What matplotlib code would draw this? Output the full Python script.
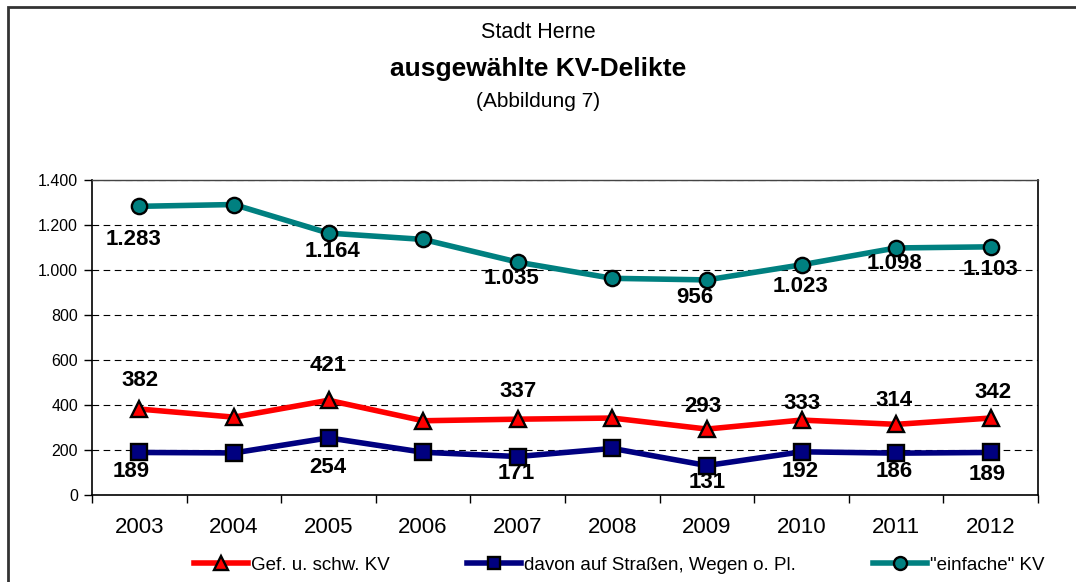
import matplotlib.pyplot as plt
from matplotlib.patches import Rectangle
from matplotlib.ticker import FuncFormatter

plt.rcParams["font.family"] = ["Liberation Sans", "DejaVu Sans"]

# Data
years = ["2003", "2004", "2005", "2006", "2007", "2008", "2009", "2010", "2011", "2012"]
gef_schw = [382, 346, 421, 330, 337, 342, 293, 333, 314, 342]
strassen = [189, 187, 254, 190, 171, 207, 131, 192, 186, 189]
einfache = [1283, 1291, 1164, 1136, 1035, 963, 956, 1023, 1098, 1103]
labeled = [0, 2, 4, 6, 7, 8, 9]

# label offsets in pixels (dx, dy)
off_einfache = [(-6, -33), (4, -18), (-6, -16), (-12, -18), (-1, -22), (-2, -16), (0, -23)]
off_gef = [(1, 29), (0, 35), (0, 28), (-4, 23), (1, 17), (-2, 24), (2, 26)]
off_str = [(-8, -19), (-1, -30), (-1, -17), (0, -17), (-1, -20), (-2, -18), (-4, -22)]


def fmt(v):
    return f"{v:,}".replace(",", ".")


fig = plt.figure(figsize=(10.76, 5.82), dpi=100)
ax = fig.add_axes([92 / 1076, 87 / 582, 946 / 1076, 315 / 582])

x = list(range(len(years)))

series = [
    (gef_schw, "#FF0000", "^", "Gef. u. schw. KV", off_gef, 12),
    (strassen, "#000080", "s", "davon auf Straßen, Wegen o. Pl.", off_str, 11),
    (einfache, "#008080", "o", '"einfache" KV', off_einfache, 11),
]

for vals, col, mk, name, offs, ms in series:
    ax.plot(x, vals, color=col, lw=4, marker=mk, markersize=ms,
            markerfacecolor=col, markeredgecolor="black", markeredgewidth=1.7,
            label=name, zorder=3)
    for i, (dx, dy) in zip(labeled, offs):
        ax.annotate(fmt(vals[i]), (x[i], vals[i]), xytext=(dx, dy),
                    textcoords="offset pixels", ha="center", va="center",
                    fontsize=16, fontweight="bold", zorder=4)

ax.set_xlim(-0.5, 9.5)
ax.set_ylim(0, 1400)
ax.set_yticks(range(0, 1401, 200))
ax.yaxis.set_major_formatter(FuncFormatter(lambda v, p: fmt(int(v))))
ax.grid(axis="y", color="black", linestyle=(0, (6, 4)), linewidth=0.8)
ax.set_axisbelow(True)

ax.set_xticks([i - 0.5 for i in range(11)])
ax.set_xticklabels([])
ax.set_xticks(x, minor=True)
ax.set_xticklabels(years, minor=True)
ax.tick_params(axis="x", which="major", length=6, width=1, direction="out")
ax.tick_params(axis="x", which="minor", length=0, pad=15.5, labelsize=16)
ax.tick_params(axis="y", length=6, width=1, direction="out", labelsize=11.5, pad=4)

for s in ["left", "bottom", "right"]:
    ax.spines[s].set_color("black")
    ax.spines[s].set_linewidth(1.2)
ax.spines["top"].set_color("#444444")
ax.spines["top"].set_linewidth(1.0)

fig.text(0.5, 1 - 33 / 582, "Stadt Herne", ha="center", va="center", fontsize=15.5)
fig.text(0.5, 1 - 69 / 582, "ausgewählte KV-Delikte", ha="center", va="center",
         fontsize=19, fontweight="bold")
fig.text(0.5, 1 - 101 / 582, "(Abbildung 7)", ha="center", va="center", fontsize=15)

fig.legend(loc="center", bbox_to_anchor=(619 / 1076, 1 - 565 / 582), ncol=3,
           frameon=False, fontsize=13.5, handlelength=2.9, handletextpad=0.15,
           columnspacing=4.1, markerscale=0.85)

# outer frame
fig.patches.append(Rectangle((8 / 1076, -0.05), 1.2, 1 - 7 / 582 + 0.05,
                             transform=fig.transFigure, fill=False,
                             edgecolor="#333333", linewidth=2))

plt.savefig("out.png", dpi=100)
